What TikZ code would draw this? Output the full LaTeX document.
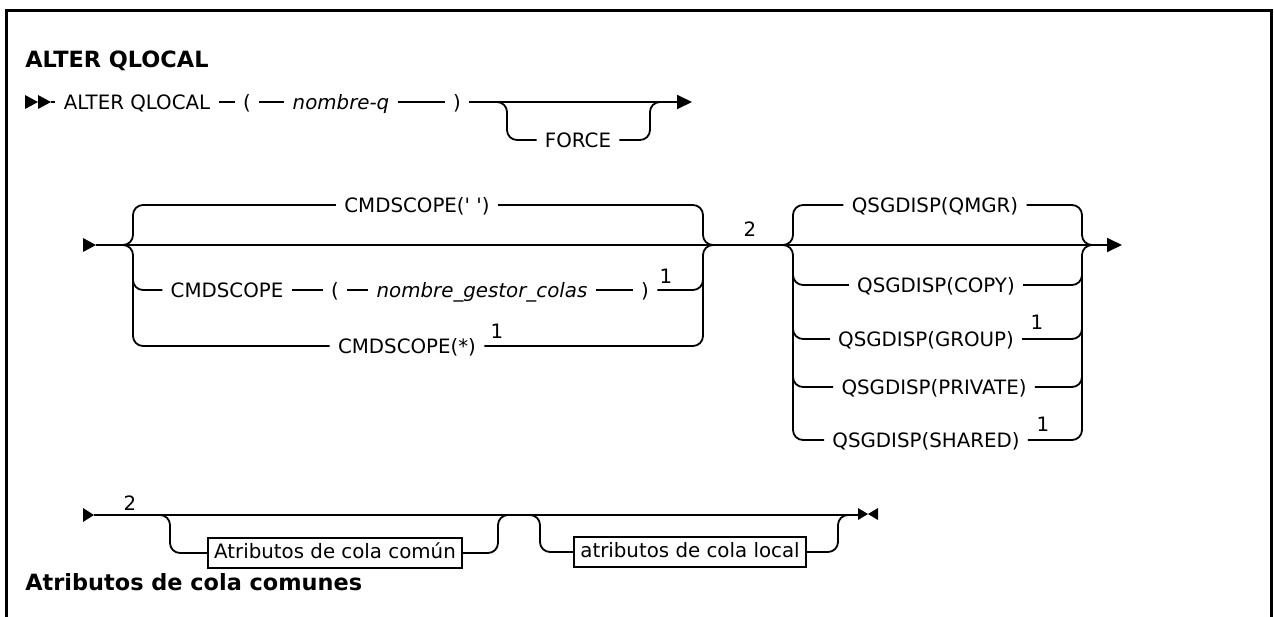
\documentclass[tikz,border=0pt]{standalone}
\usepackage{fontspec}
\setmainfont{DejaVu Sans}
\usetikzlibrary{arrows.meta, positioning}

\begin{document}
\begin{tikzpicture}[
  x=0.5pt, y=-0.5pt,
  font=\fontsize{9.9}{12}\selectfont,
  kw/.style={inner xsep=4pt, inner ysep=1pt, text height=7.2pt, text depth=0pt},
  var/.style={kw, font=\fontsize{9.9}{12}\selectfont\itshape},
  note/.style={inner sep=0.5pt, font=\fontsize{9.9}{12}\selectfont},
  rail/.style={line width=0.9pt, rounded corners=5pt},
  railend/.style={line width=0.9pt, -{Triangle[length=7.5pt, width=7pt]}},
  attbox/.style={draw, line width=0.9pt, inner xsep=3pt, inner ysep=3pt, text height=7.2pt, text depth=2pt},
  heading/.style={anchor=base west, inner sep=0pt, font=\fontsize{11.2}{14}\selectfont\bfseries},
  frame/.style={line width=1.5pt}
]
\useasboundingbox (0,0) rectangle (1274,616);

% === FRAME ===
\draw[frame] (6.5,640) -- (6.5,10) -- (1271,10) -- (1271,640);

\node[heading] (title1) at (25,67) {ALTER QLOCAL};
\node[heading] (title2) at (25,590) {Atributos de cola comunes};

% === ROW 1 ===
\fill (25,95) -- (38,102) -- (25,109) -- cycle;
\fill (38,95) -- (51,102) -- (38,109) -- cycle;
\coordinate (s1) at (51,102);
\coordinate (e1) at (692,102);
\node[kw]  (alter) at (137,102) {ALTER QLOCAL};
\node[kw]  (lp1)   at (247,102) {(};
\node[var] (qname) at (341,102) {nombre-q};
\node[kw]  (rp1)   at (457,102) {)};
\node[kw]  (force) at (578,140) {FORCE};

\draw[rail] (s1) -- (alter.west);
\draw[rail] (alter.east) -- (lp1.west);
\draw[rail] (lp1.east) -- (qname.west);
\draw[rail] (qname.east) -- (rp1.west);
\draw[railend] (rp1.east) -- (e1);
% optional FORCE
\draw[rail] (490,102) -| (507,140) -- (force.west);
\draw[rail] (force.east) -| (650,102) -- (667,102);

% === ROW 2 ===
\fill (83,238) -- (96,245) -- (83,252) -- cycle;
\coordinate (s2) at (96,245);
\coordinate (e2) at (1122,245);
\draw[railend] (s2) -- (e2);
\node[note] (n2a) at (750,229) {2};

% CMDSCOPE choices
\node[kw]  (cmdblank) at (417,205) {CMDSCOPE(\textquotesingle\ \textquotesingle)};
\node[kw]  (cmd)      at (227,290) {CMDSCOPE};
\node[kw]  (lp2)      at (335,290) {(};
\node[var] (qmgrname) at (482,290) {nombre\_gestor\_colas};
\node[kw]  (rp2)      at (645,290) {)};
\node[note] (n1a)     at (666,276) {1};
\node[kw]  (cmdstar)  at (407,346) {CMDSCOPE(*)};
\node[note] (n1b)     at (497,331) {1};

\draw[rail] (116,245) -| (133,205) -- (cmdblank.west);
\draw[rail] (116,245) -| (133,346) -- (cmdstar.west);
\draw[rail] (133,265) |- (cmd.west);
\draw[rail] (cmd.east) -- (lp2.west);
\draw[rail] (lp2.east) -- (qmgrname.west);
\draw[rail] (qmgrname.east) -- (rp2.west);
\draw[rail] (rp2.east) -| (703,265);
\draw[rail] (cmdblank.east) -| (703,245) -- (720,245);
\draw[rail] (cmdstar.east) -| (703,245) -- (720,245);

% QSGDISP choices
\node[kw] (qmgr)    at (935,205) {QSGDISP(QMGR)};
\node[kw] (copy)    at (936,285) {QSGDISP(COPY)};
\node[kw] (group)   at (926,339) {QSGDISP(GROUP)};
\node[note] (n1c)   at (1037,322) {1};
\node[kw] (private) at (934,387) {QSGDISP(PRIVATE)};
\node[kw] (shared)  at (926,440) {QSGDISP(SHARED)};
\node[note] (n1d)   at (1043,424) {1};

\draw[rail] (776,245) -| (793,205) -- (qmgr.west);
\draw[rail] (776,245) -| (793,440) -- (shared.west);
\draw[rail] (793,265) |- (copy.west);
\draw[rail] (793,320) |- (group.west);
\draw[rail] (793,370) |- (private.west);
\draw[rail] (qmgr.east) -| (1082,245) -- (1099,245);
\draw[rail] (shared.east) -| (1082,245) -- (1099,245);
\draw[rail] (copy.east) -| (1082,265);
\draw[rail] (group.east) -| (1082,320);
\draw[rail] (private.east) -| (1082,370);

% === ROW 3 ===
\fill (83,508) -- (94,515) -- (83,522) -- cycle;
\coordinate (s3) at (94,515);
\coordinate (e3) at (858,515);
\draw[rail] (s3) -- (e3);
\node[note] (n2b) at (130,503) {2};
\fill (858,508) -- (868,514) -- (858,520) -- cycle;
\fill (878,508) -- (868,514) -- (878,520) -- cycle;

\node[attbox] (att1) at (335,553) {Atributos de cola común};
\node[attbox] (att2) at (690,552) {atributos de cola local};

\draw[rail] (153,515) -| (170,553) -- (att1.west);
\draw[rail] (att1.east) -| (498,515) -- (515,515);
\draw[rail] (523,515) -| (540,552) -- (att2.west);
\draw[rail] (att2.east) -| (838,515) -- (855,515);

\end{tikzpicture}
\end{document}
